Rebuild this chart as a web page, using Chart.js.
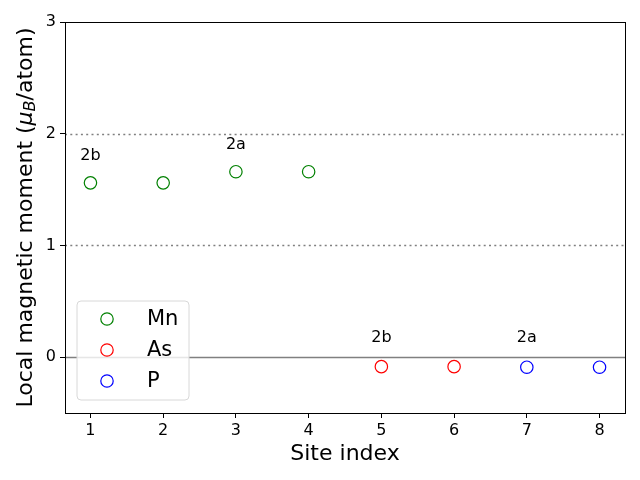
<!DOCTYPE html>
<html>
<head>
<meta charset="utf-8">
<script src="https://cdn.jsdelivr.net/npm/chart.js@4"></script>
<style>
  html, body { margin: 0; padding: 0; background: #fff; }
  #wrap { width: 640px; height: 480px; }
</style>
</head>
<body>
<div id="wrap"><canvas id="chart" width="640" height="480"></canvas></div>
<script>
// site data
const mnSites = [1, 2, 3, 4];
const mnMoments = [1.56, 1.56, 1.66, 1.66];
const asSites = [5, 6];
const asMoments = [-0.085, -0.085];
const pSites = [7, 8];
const pMoments = [-0.09, -0.09];

const xTicks = [1, 2, 3, 4, 5, 6, 7, 8];
const yTicks = [0, 1, 2, 3];
const refLines = [1, 2];

// Wyckoff labels: [x, y, text]
const siteLabels = [
    [1, 1.80, "2b"],
    [3, 1.90, "2a"],
    [5, 0.17, "2b"],
    [7, 0.17, "2a"]
];

const FONT = "'DejaVu Sans', sans-serif";

function toPoints(xs, ys) {
    return xs.map((x, i) => ({ x: x, y: ys[i] }));
}

const series = [
    { label: "Mn", color: "#008000", data: toPoints(mnSites, mnMoments) },
    { label: "As", color: "#ff0000", data: toPoints(asSites, asMoments) },
    { label: "P", color: "#0000ff", data: toPoints(pSites, pMoments) }
];

const extrasPlugin = {
    id: "extras",
    beforeDatasetsDraw(chart) {
        const ctx = chart.ctx;
        const area = chart.chartArea;
        const ys = chart.scales.y;
        ctx.save();
        ctx.strokeStyle = "#808080";
        ctx.lineWidth = 1.5;
        ctx.setLineDash([2, 3.3]);
        refLines.forEach(v => {
            const py = Math.round(ys.getPixelForValue(v)) + 0.5;
            ctx.beginPath();
            ctx.moveTo(area.left, py);
            ctx.lineTo(area.right, py);
            ctx.stroke();
        });
        ctx.setLineDash([]);
        const p0 = Math.round(ys.getPixelForValue(0)) + 0.5;
        ctx.beginPath();
        ctx.moveTo(area.left, p0);
        ctx.lineTo(area.right, p0);
        ctx.stroke();
        ctx.restore();
    },
    afterDraw(chart) {
        const ctx = chart.ctx;
        const area = chart.chartArea;
        const xs = chart.scales.x;
        const ys = chart.scales.y;
        ctx.save();

        // frame
        ctx.strokeStyle = "#000";
        ctx.lineWidth = 1;
        ctx.strokeRect(Math.round(area.left) + 0.5, Math.round(area.top) + 0.5,
            Math.round(area.right - area.left), Math.round(area.bottom - area.top));

        // site labels
        ctx.fillStyle = "#000";
        ctx.font = "16px " + FONT;
        ctx.textAlign = "center";
        ctx.textBaseline = "middle";
        siteLabels.forEach(l => {
            ctx.fillText(l[2], xs.getPixelForValue(l[0]), ys.getPixelForValue(l[1]));
        });

        // x title
        ctx.font = "22px " + FONT;
        ctx.fillText("Site index", (area.left + area.right) / 2, 454);

        // y title with subscript
        ctx.translate(26, (area.top + area.bottom) / 2);
        ctx.rotate(-Math.PI / 2);
        ctx.textAlign = "left";
        const partA = "Local magnetic moment (";
        const partC = "/atom)";
        ctx.font = "22px " + FONT;
        const wA = ctx.measureText(partA).width;
        ctx.font = "italic 22px " + FONT;
        const wMu = ctx.measureText("\u03bc").width;
        ctx.font = "italic 16px " + FONT;
        const wB = ctx.measureText("B").width;
        ctx.font = "22px " + FONT;
        const wC = ctx.measureText(partC).width;
        let tx = -(wA + wMu + wB + wC) / 2;
        ctx.fillText(partA, tx, 0);
        tx += wA;
        ctx.font = "italic 22px " + FONT;
        ctx.fillText("\u03bc", tx, 0);
        tx += wMu;
        ctx.font = "italic 16px " + FONT;
        ctx.fillText("B", tx, 5);
        tx += wB;
        ctx.font = "22px " + FONT;
        ctx.fillText(partC, tx, 0);
        ctx.setTransform(1, 0, 0, 1, 0, 0);

        // legend box
        const lx = 77, ly = 301, lw = 112, lh = 99, r = 4;
        ctx.beginPath();
        ctx.moveTo(lx + r, ly);
        ctx.arcTo(lx + lw, ly, lx + lw, ly + lh, r);
        ctx.arcTo(lx + lw, ly + lh, lx, ly + lh, r);
        ctx.arcTo(lx, ly + lh, lx, ly, r);
        ctx.arcTo(lx, ly, lx + lw, ly, r);
        ctx.closePath();
        ctx.fillStyle = "rgba(255,255,255,0.8)";
        ctx.fill();
        ctx.strokeStyle = "#d8d8d8";
        ctx.lineWidth = 1;
        ctx.stroke();

        ctx.font = "21px " + FONT;
        ctx.textAlign = "left";
        ctx.textBaseline = "middle";
        series.forEach((s, i) => {
            const cy = 319 + i * 31;
            ctx.beginPath();
            ctx.arc(107, cy, 6.2, 0, Math.PI * 2);
            ctx.strokeStyle = s.color;
            ctx.lineWidth = 1.2;
            ctx.stroke();
            ctx.fillStyle = "#000";
            ctx.fillText(s.label, 147, cy + 1);
        });
        ctx.restore();
    }
};

new Chart(document.getElementById("chart").getContext("2d"), {
    type: "scatter",
    data: {
        datasets: series.map(s => ({
            label: s.label,
            data: s.data,
            borderColor: s.color,
            backgroundColor: "rgba(0,0,0,0)",
            borderWidth: 1.2,
            pointRadius: 6.2,
            pointHoverRadius: 6.2,
            pointStyle: "circle"
        }))
    },
    options: {
        responsive: false,
        animation: false,
        events: [],
        layout: { padding: { top: 22, right: 15, left: 0, bottom: 0 } },
        plugins: {
            legend: { display: false },
            tooltip: { enabled: false }
        },
        scales: {
            x: {
                type: "linear",
                min: 0.65,
                max: 8.35,
                afterBuildTicks: axis => { axis.ticks = xTicks.map(v => ({ value: v })); },
                afterFit: axis => { axis.height = 67; },
                grid: { drawOnChartArea: false, drawTicks: true, tickLength: 5, color: "#000" },
                border: { display: true, color: "#000" },
                ticks: { color: "#000", font: { family: FONT, size: 16 }, padding: 3, maxRotation: 0 }
            },
            y: {
                type: "linear",
                min: -0.5,
                max: 3,
                afterBuildTicks: axis => { axis.ticks = yTicks.map(v => ({ value: v })); },
                afterFit: axis => { axis.width = 65; },
                grid: { drawOnChartArea: false, drawTicks: true, tickLength: 5, color: "#000" },
                border: { display: true, color: "#000" },
                ticks: { color: "#000", font: { family: FONT, size: 16 }, padding: 4 }
            }
        }
    },
    plugins: [extrasPlugin]
});
</script>
</body>
</html>
